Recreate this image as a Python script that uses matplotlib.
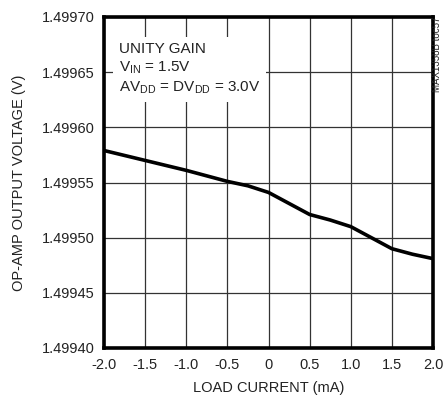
import numpy as np
import matplotlib.pyplot as plt

# load current (mA) and op-amp output (V)
load_current = [-2.0, -1.5, -1.0, -0.5, -0.25, 0.0, 0.25, 0.5, 0.75, 1.0, 1.25, 1.5, 1.75, 2.0]
out_voltage = [1.499579, 1.499570, 1.499561, 1.499551, 1.499547, 1.499541, 1.499531,
               1.499521, 1.499516, 1.499510, 1.499500, 1.499490, 1.499485, 1.499481]

xticks = [-2.0, -1.5, -1.0, -0.5, 0, 0.5, 1.0, 1.5, 2.0]
xtick_labels = ["-2.0", "-1.5", "-1.0", "-0.5", "0", "0.5", "1.0", "1.5", "2.0"]
yticks = [1.49940, 1.49945, 1.49950, 1.49955, 1.49960, 1.49965, 1.49970]

plt.rcParams['font.family'] = ["Liberation Sans", "DejaVu Sans"]

fig = plt.figure(figsize=(4.43, 4.05), dpi=100)
ax = fig.add_axes([104/443, 1 - 348/405, 329/443, 331/405])

ax.plot(load_current, out_voltage, color='black', lw=2.6, zorder=3,
        solid_capstyle='butt', solid_joinstyle='round')

ax.set_xlim(-2.0, 2.0)
ax.set_ylim(1.49940, 1.49970)
ax.set_xticks(xticks)
ax.set_xticklabels(xtick_labels)
ax.set_yticks(yticks)
ax.set_yticklabels(["%.5f" % v for v in yticks])
ax.tick_params(length=0, labelsize=10.5, pad=7, colors='#222222')
ax.grid(True, color='#333333', lw=0.9)
ax.set_axisbelow(True)
for s in ax.spines.values():
    s.set_linewidth(2.6)
    s.set_color('black')

ax.set_xlabel("LOAD CURRENT (mA)", fontsize=10.5, color='#222222', labelpad=7)
ax.set_ylabel("OP-AMP OUTPUT VOLTAGE (V)", fontsize=10.5, color='#222222', labelpad=11)

ax.text(0.045, 0.925,
        "UNITY GAIN\n$\\mathregular{V_{IN}}$ = 1.5V\n$\\mathregular{AV_{DD}}$ = $\\mathregular{DV_{DD}}$ = 3.0V",
        transform=ax.transAxes, fontsize=11, va='top', ha='left', color='#222222',
        linespacing=1.3, zorder=4,
        bbox=dict(boxstyle='square,pad=0.4', fc='white', ec='none'))

fig.text(0.987, 0.96, "MAX1358B toc57", rotation=90, fontsize=7, ha='center', va='top', color='#222222')

fig.savefig("out.png", dpi=100)
